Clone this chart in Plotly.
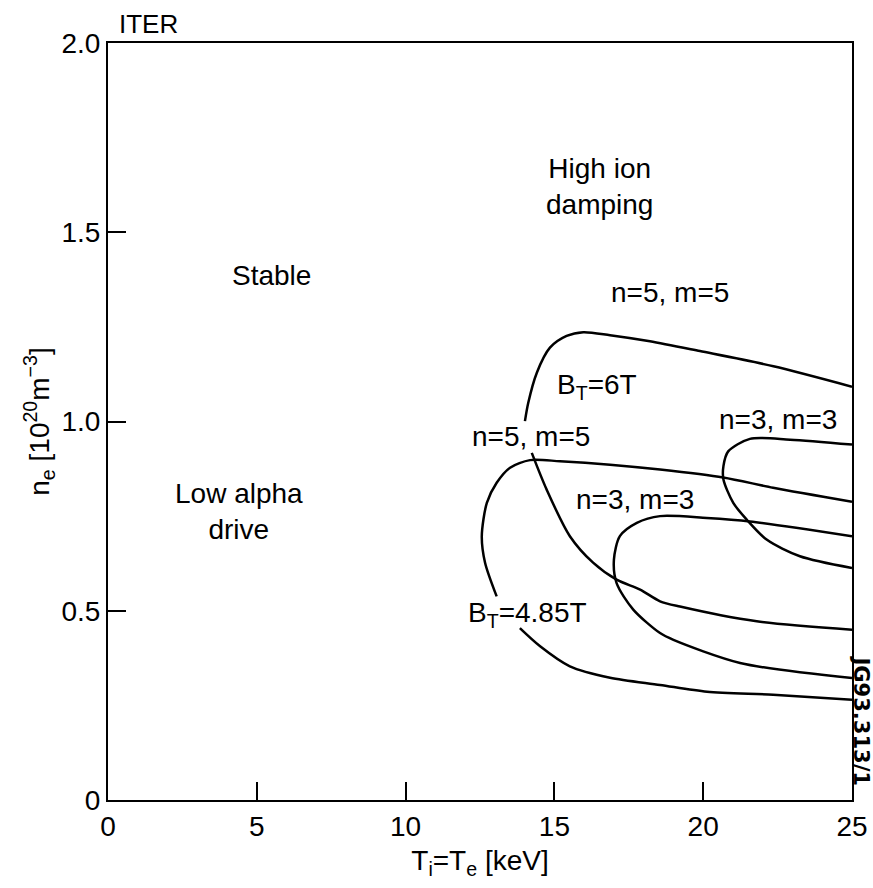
import plotly.graph_objects as go

# ---- data ----
# B_T = 6T, n=5, m=5 : upper branch and lower branch (gap at label)
bt6_n5_upper_x = [14.01, 14.12, 14.41, 14.85, 15.41, 15.97, 16.87, 18.21, 19.89, 22.36, 25.0]
bt6_n5_upper_y = [1.001, 1.049, 1.129, 1.195, 1.226, 1.236, 1.228, 1.212, 1.186, 1.146, 1.092]
bt6_n5_lower_x = [14.24, 14.74, 15.52, 16.30, 17.09, 17.88, 18.55, 19.22, 21.80, 25.0]
bt6_n5_lower_y = [0.917, 0.820, 0.697, 0.627, 0.582, 0.556, 0.525, 0.511, 0.472, 0.450]

# B_T = 6T, n=3, m=3
bt6_n3_x = [25.0, 22.92, 21.57, 20.84, 20.68, 20.68, 21.01, 21.46, 22.13, 23.25, 25.0]
bt6_n3_y = [0.939, 0.952, 0.954, 0.921, 0.882, 0.847, 0.785, 0.741, 0.688, 0.644, 0.613]

# B_T = 4.85T, n=5, m=5 : upper branch and lower branch (gap at label)
bt485_n5_upper_x = [13.06, 12.67, 12.56, 12.73, 13.06, 13.51, 14.18, 15.19, 16.87, 18.55, 20.67, 22.35, 25.0]
bt485_n5_upper_y = [0.538, 0.627, 0.697, 0.785, 0.838, 0.878, 0.898, 0.895, 0.886, 0.873, 0.852, 0.825, 0.788]
bt485_n5_lower_x = [13.84, 14.52, 15.52, 16.87, 18.55, 20.13, 22.35, 25.0]
bt485_n5_lower_y = [0.454, 0.406, 0.353, 0.323, 0.304, 0.286, 0.278, 0.265]

# B_T = 4.85T, n=3, m=3
bt485_n3_x = [25.0, 21.57, 20.12, 18.55, 17.77, 17.20, 17.00, 17.09, 17.65, 18.55, 19.00, 21.24, 25.0]
bt485_n3_y = [0.697, 0.736, 0.745, 0.750, 0.732, 0.697, 0.635, 0.573, 0.503, 0.441, 0.423, 0.362, 0.322]

x_ticks = [0, 5, 10, 15, 20, 25]
x_tick_labels = ["0", "5", "10", "15", "20", "25"]
y_ticks = [0, 0.5, 1.0, 1.5, 2.0]
y_tick_labels = ["0", "0.5", "1.0", "1.5", "2.0"]

FONT = "Liberation Sans, Arial, Helvetica, sans-serif"
FS = 28

fig = go.Figure()
line = dict(color="black", width=2.5, shape="spline", smoothing=0.8)
for xs, ys in [
    (bt6_n5_upper_x, bt6_n5_upper_y),
    (bt6_n5_lower_x, bt6_n5_lower_y),
    (bt6_n3_x, bt6_n3_y),
    (bt485_n5_upper_x, bt485_n5_upper_y),
    (bt485_n5_lower_x, bt485_n5_lower_y),
    (bt485_n3_x, bt485_n3_y),
]:
    fig.add_trace(go.Scatter(x=xs, y=ys, mode="lines", line=line,
                             hoverinfo="skip", showlegend=False, cliponaxis=True))

ann_font = dict(family=FONT, size=FS, color="black")
annotations = [
    dict(x=16.5, y=1.62, text="High ion<br>damping"),
    dict(x=5.51, y=1.386, text="Stable"),
    dict(x=4.40, y=0.762, text="Low alpha<br>drive"),
    dict(x=18.88, y=1.341, text="n=5, m=5"),
    dict(x=16.43, y=1.093, text="B<sub>T</sub>=6T"),
    dict(x=14.21, y=0.960, text="n=5, m=5"),
    dict(x=22.5, y=1.005, text="n=3, m=3"),
    dict(x=17.7, y=0.794, text="n=3, m=3"),
    dict(x=14.08, y=0.489, text="B<sub>T</sub>=4.85T"),
]
for a in annotations:
    fig.add_annotation(x=a["x"], y=a["y"], text=a["text"], showarrow=False,
                       font=ann_font, xref="x", yref="y", align="center")

fig.add_annotation(x=0.3, y=2.0, text="ITER", showarrow=False, xref="x", yref="y",
                   xanchor="left", yanchor="bottom", yshift=2,
                   font=dict(family=FONT, size=26, color="black"))
fig.add_annotation(x=1.0134, y=0.21, text="<b>JG93.313/1</b>", showarrow=False,
                   xref="paper", yref="y", textangle=90,
                   xanchor="center", yanchor="middle",
                   font=dict(family="DejaVu Sans, sans-serif", size=21, color="black"))

fig.update_xaxes(range=[0, 25], tickvals=x_ticks, ticktext=x_tick_labels,
                 showline=True, mirror=True, linecolor="black", linewidth=2,
                 ticks="inside", ticklen=18, tickwidth=2, tickcolor="black",
                 showgrid=False, zeroline=False, automargin=False,
                 tickfont=dict(family=FONT, size=FS, color="black"),
                 title=dict(text="T<sub>i</sub>=T<sub>e</sub> [keV]", standoff=10,
                            font=dict(family=FONT, size=FS, color="black")))
fig.update_yaxes(range=[0, 2.0], tickvals=y_ticks, ticktext=y_tick_labels,
                 showline=True, mirror=True, linecolor="black", linewidth=2,
                 ticks="inside", ticklen=18, tickwidth=2, tickcolor="black",
                 showgrid=False, zeroline=False, automargin=False,
                 tickfont=dict(family=FONT, size=FS, color="black"),
                 title=dict(text="n<sub>e</sub> [10<sup>20</sup>m<sup>−3</sup>]", standoff=4,
                            font=dict(family=FONT, size=FS, color="black")))

fig.update_layout(width=873, height=888,
                  margin=dict(l=108, r=21, t=43, b=88, pad=0),
                  plot_bgcolor="white", paper_bgcolor="white",
                  showlegend=False)

fig.write_html("out.html")
